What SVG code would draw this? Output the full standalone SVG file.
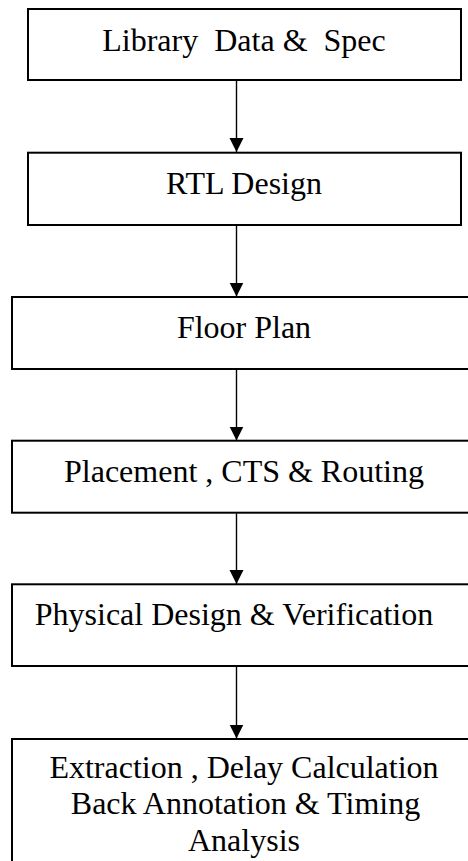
<svg xmlns="http://www.w3.org/2000/svg" width="468" height="861" viewBox="0 0 468 861">
  <defs>
    <marker id="arrow" markerWidth="14" markerHeight="16" refX="14" refY="7" orient="auto" markerUnits="userSpaceOnUse">
      <path d="M0,0 L14,7 L0,14 Z" fill="#000"/>
    </marker>
  </defs>
  <style>
    .box { fill: #fff; stroke: #000; stroke-width: 2; }
    .lbl { font-family: "Liberation Serif", "Times New Roman", serif; font-size: 32px; fill: #000; text-anchor: middle; }
    .edge { stroke: #000; stroke-width: 1.4; fill: none; marker-end: url(#arrow); }
  </style>
  <rect width="468" height="861" fill="#fff"/>

  <g id="connectors">
    <line class="edge" x1="236.5" y1="81" x2="236.5" y2="152"/>
    <line class="edge" x1="236.5" y1="226" x2="236.5" y2="296.5"/>
    <line class="edge" x1="236.5" y1="370" x2="236.5" y2="440.5"/>
    <line class="edge" x1="236.5" y1="513.5" x2="236.5" y2="584"/>
    <line class="edge" x1="236.5" y1="664" x2="236.5" y2="738.5"/>
  </g>

  <g id="library">
    <rect class="box" x="28" y="9" width="433" height="71"/>
    <text class="lbl" x="244" y="50.5" xml:space="preserve">Library  Data &amp;  Spec</text>
  </g>

  <g id="rtl">
    <rect class="box" x="28" y="152.7" width="433" height="72.3"/>
    <text class="lbl" x="244" y="194.3">RTL Design</text>
  </g>

  <g id="floorplan">
    <rect class="box" x="12" y="297" width="480" height="72"/>
    <text class="lbl" x="244" y="338.3">Floor Plan</text>
  </g>

  <g id="placement">
    <rect class="box" x="12" y="440.7" width="480" height="72"/>
    <text class="lbl" x="244" y="481.7">Placement , CTS &amp; Routing</text>
  </g>

  <g id="physical">
    <rect class="box" x="12" y="584.3" width="480" height="81.7"/>
    <text class="lbl" x="234" y="625">Physical Design &amp; Verification</text>
  </g>

  <g id="extraction">
    <rect class="box" x="12" y="739" width="480" height="200"/>
    <text class="lbl" x="244" y="778.3">Extraction , Delay Calculation</text>
    <text class="lbl" x="245.5" y="814">Back Annotation &amp; Timing</text>
    <text class="lbl" x="244" y="850.7">Analysis</text>
  </g>
</svg>
